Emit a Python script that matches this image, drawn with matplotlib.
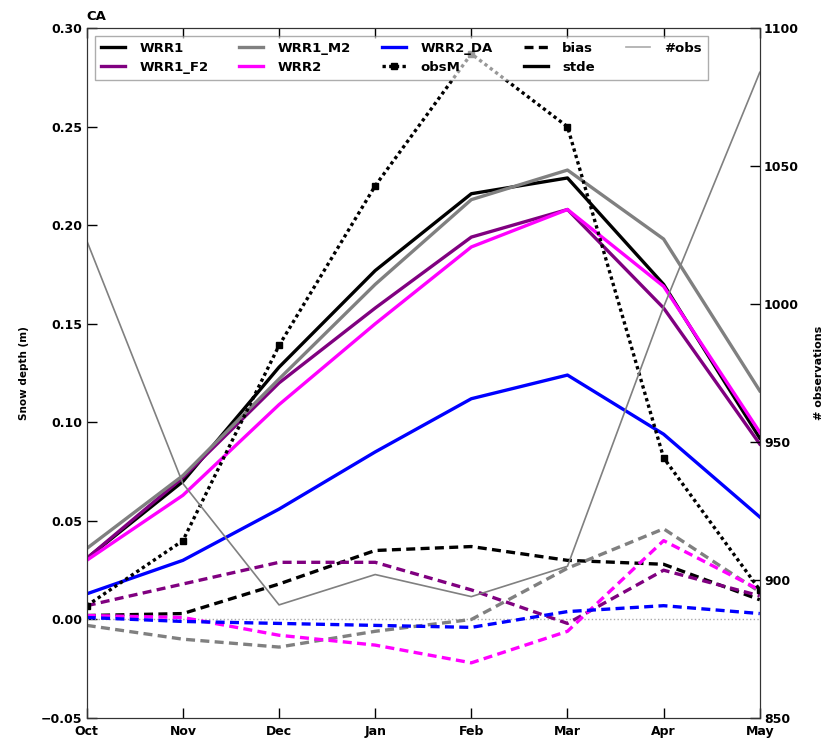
import matplotlib
matplotlib.use("Agg")
import matplotlib.pyplot as plt
import numpy as np
from matplotlib.lines import Line2D

MONTHS = ["Oct", "Nov", "Dec", "Jan", "Feb", "Mar", "Apr", "May"]

# stde (m)
STDE_WRR1 = [0.031, 0.070, 0.128, 0.177, 0.216, 0.224, 0.170, 0.092]
STDE_WRR1_F2 = [0.031, 0.072, 0.120, 0.158, 0.194, 0.208, 0.158, 0.089]
STDE_WRR1_M2 = [0.036, 0.073, 0.122, 0.170, 0.213, 0.228, 0.193, 0.116]
STDE_WRR2 = [0.030, 0.063, 0.109, 0.150, 0.189, 0.208, 0.169, 0.095]
STDE_WRR2_DA = [0.013, 0.030, 0.056, 0.085, 0.112, 0.124, 0.094, 0.052]

# bias (m)
BIAS_WRR1 = [0.002, 0.003, 0.018, 0.035, 0.037, 0.030, 0.028, 0.010]
BIAS_WRR1_F2 = [0.007, 0.018, 0.029, 0.029, 0.015, -0.002, 0.025, 0.012]
BIAS_WRR1_M2 = [-0.003, -0.010, -0.014, -0.006, 0.000, 0.026, 0.046, 0.014]
BIAS_WRR2 = [0.002, 0.001, -0.008, -0.013, -0.022, -0.006, 0.040, 0.015]
BIAS_WRR2_DA = [0.001, -0.001, -0.002, -0.003, -0.004, 0.004, 0.007, 0.003]

OBS_MEAN = [0.007, 0.040, 0.139, 0.220, 0.287, 0.250, 0.082, 0.015]
N_OBS = [1023, 935, 891, 902, 894, 905, 999, 1084]

RUNS = [
    ("WRR1", "black", STDE_WRR1, BIAS_WRR1),
    ("WRR1_F2", "purple", STDE_WRR1_F2, BIAS_WRR1_F2),
    ("WRR1_M2", "gray", STDE_WRR1_M2, BIAS_WRR1_M2),
    ("WRR2", "magenta", STDE_WRR2, BIAS_WRR2),
    ("WRR2_DA", "blue", STDE_WRR2_DA, BIAS_WRR2_DA),
]

DASH = (0, (2.7, 1.6))
LW = 2.4

fig = plt.figure(figsize=(8.34, 7.41), dpi=100)
ax = fig.add_axes([0.104, 0.031, 0.807, 0.931])
x = np.arange(len(MONTHS))

ax.axhline(0, color="#aaaaaa", linestyle=":", linewidth=1)
handles = []
for name, col, stde, bias in RUNS:
    ax.plot(x, stde, color=col, linewidth=LW)
    ax.plot(x, bias, color=col, linewidth=LW, linestyle=DASH)
    handles.append(Line2D([], [], color=col, linewidth=LW, label=name))

ax.plot(x, OBS_MEAN, color="black", linewidth=LW, linestyle=(0, (1, 1)),
        marker="s", markersize=4.5)
handles.append(Line2D([], [], color="black", linewidth=LW, linestyle=(0, (1, 1)),
                      marker="s", markersize=4.5, label="obsM"))
handles.append(Line2D([], [], color="black", linewidth=LW, linestyle=DASH, label="bias"))
handles.append(Line2D([], [], color="black", linewidth=LW, label="stde"))

ax.set_xlim(0, len(MONTHS) - 1)
ax.set_ylim(-0.05, 0.30)
ax.set_xticks(x)
ax.set_xticklabels(MONTHS)
yt = np.arange(-0.05, 0.301, 0.05)
ax.set_yticks(yt)
ax.set_yticklabels([f"{v:.2f}".replace("-", "\u2212") for v in yt])
ax.tick_params(direction="in", top=True, length=7, width=1, pad=3)
ax.tick_params(axis="x", pad=5)
for lab in ax.get_xticklabels() + ax.get_yticklabels():
    lab.set_fontsize(9)
    lab.set_fontweight("bold")
ax.set_ylabel("Snow depth (m)", fontsize=7.5, fontweight="bold", labelpad=9)
ax.set_title("CA", loc="left", fontsize=9.5, fontweight="bold", pad=6)

ax2 = ax.twinx()
ax2.plot(x, N_OBS, color="gray", linewidth=1.2)
handles.append(Line2D([], [], color="#aaaaaa", linewidth=1.2, label="#obs"))
ax2.set_ylim(850, 1100)
ax2.set_yticks(np.arange(850, 1101, 50))
ax2.tick_params(direction="in", length=7, width=1, pad=3)
for lab in ax2.get_yticklabels():
    lab.set_fontsize(9)
    lab.set_fontweight("bold")
ax2.set_ylabel("# observations", fontsize=8, fontweight="bold", labelpad=11)

for a in (ax, ax2):
    for s in a.spines.values():
        s.set_color("#333333")

leg = ax2.legend(handles=handles, ncol=5, loc="upper left",
                 prop={"size": 9.5, "weight": "bold"},
                 fancybox=False, framealpha=0.6, edgecolor="#777777",
                 borderaxespad=0.6, handlelength=1.82, handletextpad=1.1,
                 columnspacing=2.35, borderpad=0.45, labelspacing=0.45)
leg.get_frame().set_linewidth(1)

fig.savefig("out.png", dpi=100)
